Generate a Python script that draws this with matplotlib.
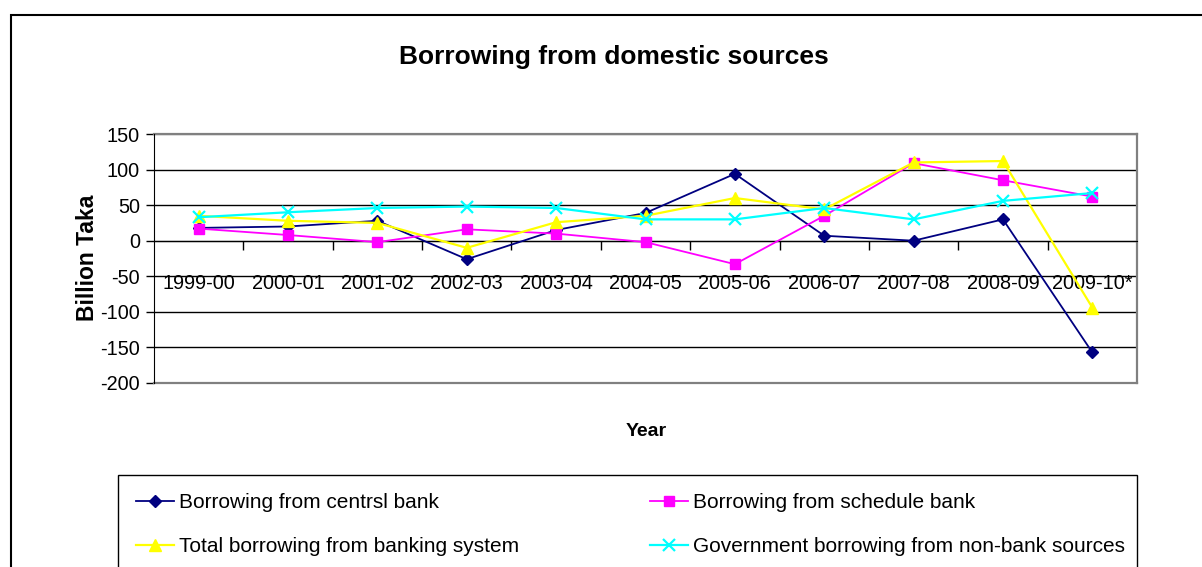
import numpy as np
import matplotlib
matplotlib.use("Agg")
import matplotlib.pyplot as plt
from matplotlib.lines import Line2D
from matplotlib.patches import Rectangle

plt.rcParams['font.family'] = ['Liberation Sans', 'DejaVu Sans']
plt.rcParams['axes.unicode_minus'] = False

years = ["1999-00", "2000-01", "2001-02", "2002-03", "2003-04", "2004-05",
         "2005-06", "2006-07", "2007-08", "2008-09", "2009-10*"]

central_bank = [18, 20, 28, -26, 15, 39, 94, 7, 0, 30, -157]
schedule_bank = [17, 8, -2, 16, 10, -2, -33, 35, 109, 85, 62]
banking_total = [35, 28, 25, -10, 26, 35, 60, 44, 110, 112, -94]
non_bank = [33, 40, 46, 48, 46, 30, 30, 46, 30, 56, 67]

series_names = ["Borrowing from centrsl bank", "Borrowing from schedule bank",
                "Total borrowing from banking system",
                "Government borrowing from non-bank sources"]

styles = [
    dict(color="#000080", marker="D", ms=6, lw=1.3),
    dict(color="#FF00FF", marker="s", ms=7, lw=1.3),
    dict(color="#FFFF00", marker="^", ms=9, lw=1.6),
    dict(color="#00FFFF", marker="x", ms=9, mew=1.6, lw=1.6),
]

W, H = 1202, 567
FS = 14.3
fig = plt.figure(figsize=(W / 100, H / 100), dpi=100)
ax = fig.add_axes([154 / W, 1 - 383 / H, (1137 - 154) / W, (383 - 134) / H])

x = np.arange(len(years))
for vals, st in zip([central_bank, schedule_bank, banking_total, non_bank], styles):
    ax.plot(x, vals, clip_on=False, zorder=3, **st)

ax.set_xlim(-0.5, len(years) - 0.5)
ax.set_ylim(-200, 150)
ax.set_yticks(np.arange(-200, 151, 50))
for yv in np.arange(-150, 151, 50):
    ax.axhline(yv, color="#000000" if yv != 150 else "#808080", lw=1.0, zorder=1)

# category axis sits on the zero line, ticks between categories
ax.spines['bottom'].set_position(('data', 0))
ax.spines['bottom'].set_color('black')
ax.spines['left'].set_color('black')
ax.spines['top'].set_visible(False)
ax.spines['right'].set_color('#808080')
ax.spines['right'].set_linewidth(1.6)
ax.add_line(Line2D([0, 1], [0, 0], transform=ax.transAxes, color='#808080', lw=1.6, clip_on=False))
ax.add_line(Line2D([0, 1], [1, 1], transform=ax.transAxes, color='#808080', lw=1.6, clip_on=False))

ax.set_xticks(x)
ax.set_xticklabels(years, fontsize=FS)
ax.set_xticks(np.arange(0.5, len(years) - 0.5), minor=True)
ax.tick_params(axis='x', which='major', length=0, pad=24)
ax.tick_params(axis='x', which='minor', length=6.5, width=1, direction='out')
ax.tick_params(axis='y', length=6, width=1, labelsize=FS, pad=4)

fig.text(614 / W, 1 - 57 / H, "Borrowing from domestic sources", fontsize=19,
         fontweight='bold', ha='center', va='center')
fig.text(646 / W, 1 - 432 / H, "Year", fontsize=14, fontweight='bold', ha='center', va='center')
fig.text(88 / W, 1 - 258 / H, "Billion Taka", fontsize=16.5, fontweight='bold',
         rotation=90, ha='center', va='center')

# outer chart frame and legend frame run past the bottom edge
fig.add_artist(Rectangle((11 / W, -0.2), 1.2, 1.2 - 15 / H, transform=fig.transFigure,
                         fill=False, ec='black', lw=1.5))
fig.add_artist(Rectangle((118 / W, -0.2), (1137 - 118) / W, 0.2 + 1 - 475 / H,
                         transform=fig.transFigure, fill=False, ec='black', lw=1.0))

handles = [Line2D([], [], **st) for st in styles]
leg_kw = dict(loc='upper left', frameon=False, fontsize=15, handlelength=1.8,
              handletextpad=0.25, labelspacing=1.2, borderpad=0, borderaxespad=0)
fig.legend([handles[0], handles[2]], [series_names[0], series_names[2]],
           bbox_to_anchor=(136 / W, 1 - 493 / H), **leg_kw)
fig.legend([handles[1], handles[3]], [series_names[1], series_names[3]],
           bbox_to_anchor=(650 / W, 1 - 493 / H), **leg_kw)

fig.savefig("out.png", dpi=100)
